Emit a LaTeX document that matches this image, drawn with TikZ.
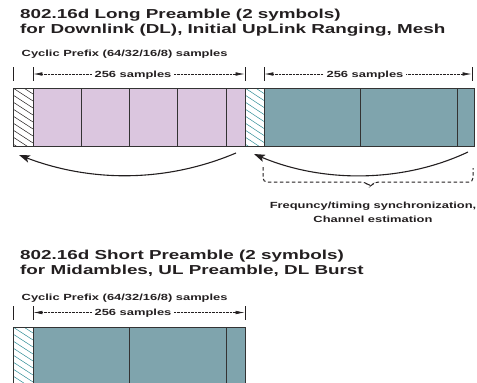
\documentclass[tikz,border=0pt]{standalone}
\usepackage{fontspec}
\newfontfamily\wfont[FakeStretch=1.45]{Liberation Sans}
\usetikzlibrary{arrows.meta}
\definecolor{txt}{HTML}{231F20}
\definecolor{edge}{HTML}{333333}
\definecolor{pinkfill}{HTML}{DBC6DF}
\definecolor{tealfill}{HTML}{7FA4AD}
\definecolor{tealhatch}{HTML}{2F8C96}
\tikzset{
  titletext/.style={font=\wfont\bfseries\fontsize{13}{15}\selectfont, inner sep=0pt, anchor=base west, text=txt},
  smalltext/.style={font=\wfont\bfseries\fontsize{8.9}{11}\selectfont, inner sep=0pt, text=txt},
  dimlabel/.style={smalltext, fill=white, inner xsep=3pt, inner ysep=1pt, anchor=base},
  dimline/.style={draw=txt, line width=0.6pt, dash pattern=on 0.7pt off 0.7pt,
    {Latex[length=9pt,width=3.6pt]}-{Latex[length=9pt,width=3.6pt]}},
  tickline/.style={draw=txt, line width=0.8pt},
  barbox/.style={draw=edge, line width=0.9pt},
  divider/.style={draw=edge, line width=0.9pt},
  hatchblack/.style={draw=txt, line width=0.5pt},
  hatchteal/.style={draw=tealhatch, line width=0.5pt},
  curvearrow/.style={draw=txt, line width=1.1pt, -{Stealth[length=11pt,width=7.5pt,inset=2.5pt]}},
  bracepath/.style={draw=txt, line width=1pt, dash pattern=on 3.5pt off 2.5pt}
}
\begin{document}
\begin{tikzpicture}[x=1pt,y=-1pt]
\useasboundingbox (0,0) rectangle (477,383);

% ---------- Long preamble ----------
\node[titletext] (t1) at (20,18.5) {802.16d Long Preamble (2 symbols)};
\node[titletext] (t2) at (20,33.5) {for Downlink (DL), Initial UpLink Ranging, Mesh};
\node[smalltext, anchor=base west] (cp1) at (21.5,56) {Cyclic Prefix (64/32/16/8) samples};

% ticks
\foreach \x in {13,33,245,264,472} \draw[tickline] (\x,67) -- (\x,81);
% dimension lines
\coordinate (d1a) at (33.4,74); \coordinate (d1b) at (244.6,74);
\coordinate (d2a) at (264.4,74); \coordinate (d2b) at (471.6,74);
\draw[dimline] (d1a) -- (d1b);
\draw[dimline] (d2a) -- (d2b);
\node[dimlabel] (s1) at (133,77) {256 samples};
\node[dimlabel] (s2) at (365,77) {256 samples};

% bars
\fill[pinkfill] (33,88) rectangle (245,146);
\fill[tealfill] (264,88) rectangle (474,146);
\begin{scope}
  \clip (13,88) rectangle (33,146);
  \foreach \k in {-21,-14,...,63} \draw[hatchblack] (13,{88+\k}) -- (33,{101+\k});
\end{scope}
\begin{scope}
  \clip (245,88) rectangle (264,146);
  \foreach \k in {-21,-14,...,63} \draw[hatchteal] (245,{88+\k}) -- (264,{100.5+\k});
\end{scope}
\foreach \x in {33,81,129,177,226,264,360,457} \draw[divider] (\x,88) -- (\x,146);
\draw[barbox] (13,88) rectangle (474,146);
\draw[divider] (245,88) -- (245,146);

% curved arrows
\coordinate (a1s) at (236,153); \coordinate (a1e) at (19,155);
\coordinate (a2s) at (468,152); \coordinate (a2e) at (254,154);
\draw[curvearrow] (a1s) .. controls (165,183) and (90,182) .. (a1e);
\draw[curvearrow] (a2s) .. controls (400,184) and (320,182) .. (a2e);

% dashed brace
\coordinate (bl) at (263,167); \coordinate (br) at (473,168);
\coordinate (btip) at (370,187);
\draw[bracepath, rounded corners=4pt] (bl) -- (263,182) -- (365.5,182) -- (btip) -- (374.5,182) -- (473,182) -- (br);

\node[smalltext, anchor=base] (f1) at (373,208) {Frequncy/timing synchronization,};
\node[smalltext, anchor=base] (f2) at (373,222.5) {Channel estimation};

% ---------- Short preamble ----------
\node[titletext] (t3) at (20,259.5) {802.16d Short Preamble (2 symbols)};
\node[titletext] (t4) at (20,274) {for Midambles, UL Preamble, DL Burst};
\node[smalltext, anchor=base west] (cp2) at (21.5,300) {Cyclic Prefix (64/32/16/8) samples};

\foreach \x in {13,33,245} \draw[tickline] (\x,306) -- (\x,320);
\coordinate (d3a) at (33.4,312.5); \coordinate (d3b) at (244.6,312.5);
\draw[dimline] (d3a) -- (d3b);
\node[dimlabel] (s3) at (133,315.5) {256 samples};

\fill[tealfill] (33,327) rectangle (245,390);
\begin{scope}
  \clip (13,327) rectangle (33,390);
  \foreach \k in {-21,-14,...,63} \draw[hatchteal] (13,{327+\k}) -- (33,{340+\k});
\end{scope}
\foreach \x in {33,129,226} \draw[divider] (\x,327) -- (\x,390);
\draw[barbox] (13,390) -- (13,327) -- (245,327) -- (245,390);
\end{tikzpicture}
\end{document}
